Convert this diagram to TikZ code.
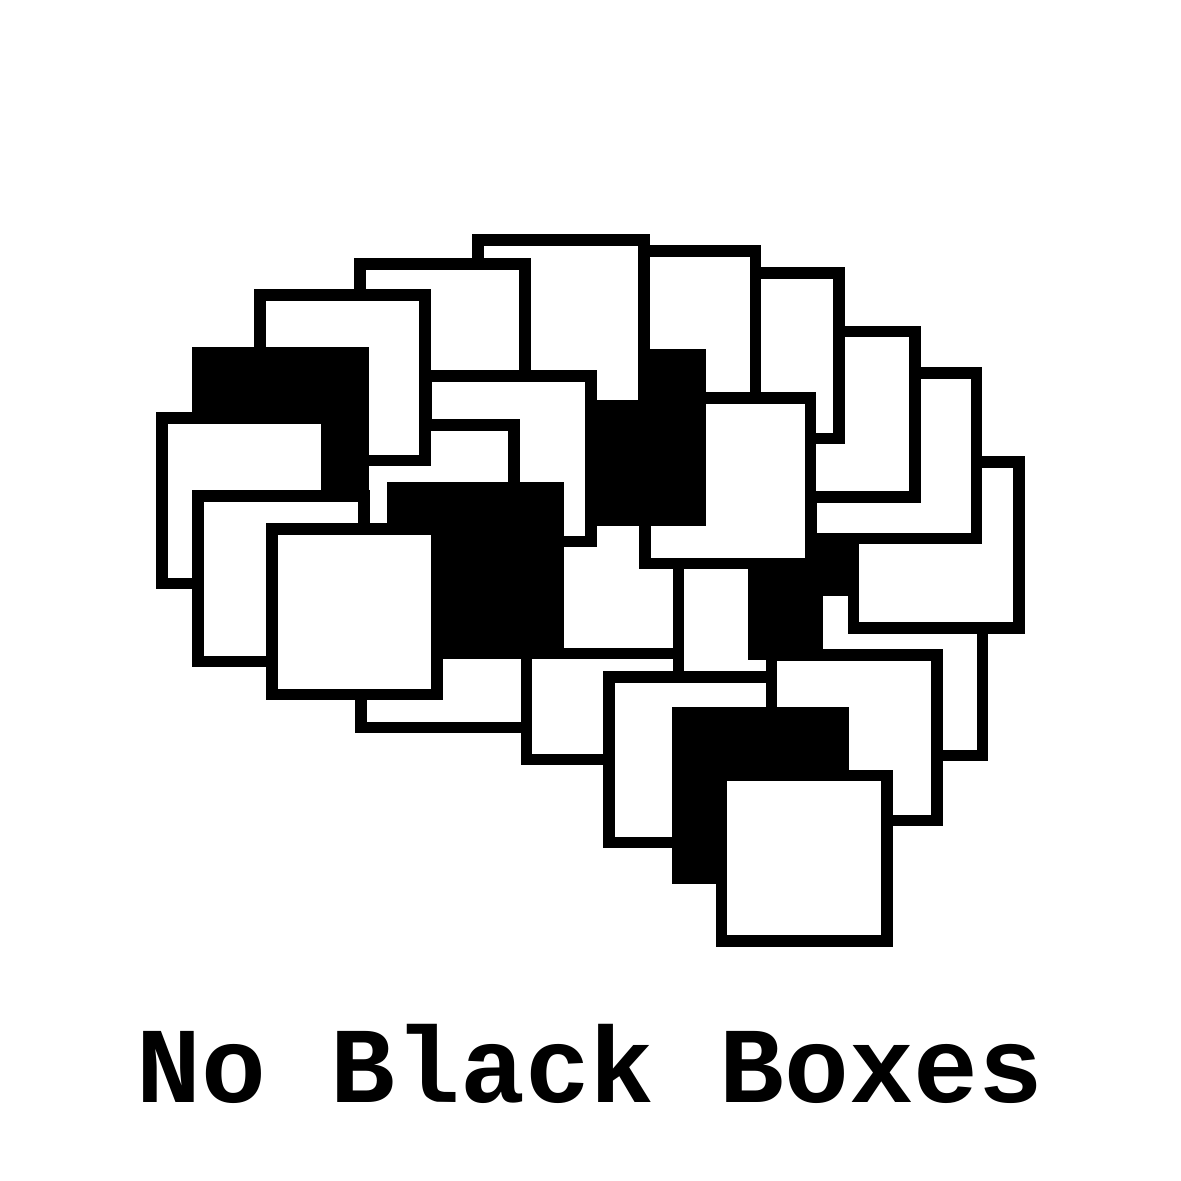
\documentclass[tikz,border=0pt]{standalone}
\usepackage{fontspec}
\setmonofont{Liberation Mono}
\newcommand{\wbox}[2]{\draw[whitebox] (#1+5.85,#2+5.85) rectangle ++(165.5,165.5);}
\newcommand{\kbox}[2]{\fill[blackbox] (#1,#2) rectangle ++(177.2,177.2);}
\tikzset{
  whitebox/.style={draw=black,fill=white,line width=0.117cm,miter limit=10},
  blackbox/.style={fill=black},
  brandtext/.style={font=\ttfamily\bfseries\fontsize{30.7}{36}\selectfont,inner sep=0pt,anchor=base}
}
\begin{document}
\begin{tikzpicture}[x=0.01cm,y=-0.01cm]
\path[use as bounding box,fill=white] (0,0) rectangle (1181,1181);
% back to front
\wbox{355.2}{556}   % H
\wbox{520.7}{588}   % I
\wbox{507}{482}     % P
\wbox{672.7}{540}   % R
\kbox{748.3}{483}   % S
\wbox{811}{584}     % W
\wbox{847.5}{456.4} % U
\wbox{805}{367}     % T
\wbox{743.5}{325.5} % DD
\wbox{667.6}{267}   % CC
\wbox{584}{245}     % BB
\wbox{639.2}{392}   % Q
\kbox{529}{349}     % N
\wbox{472.3}{234}   % A
\wbox{354}{258}     % B
\wbox{419.8}{370}   % J
\wbox{342.8}{418.8} % K
\wbox{254}{289}     % C
\kbox{192.2}{347}   % D
\wbox{156}{412}     % E
\wbox{192.3}{490}   % F
\kbox{386.8}{482}   % M
\wbox{266}{523}     % G
\wbox{603}{671.2}   % AA
\wbox{765.7}{649}   % X
\kbox{671.5}{706.6} % Y
\wbox{715.5}{769.5} % Z
\node[brandtext] (title) at (590,1102) {No Black Boxes};
\end{tikzpicture}
\end{document}
